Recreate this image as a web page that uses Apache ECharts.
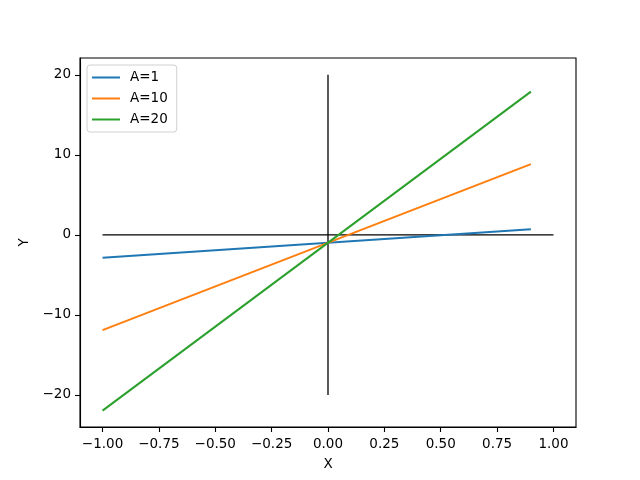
<!DOCTYPE html>
<html>
<head>
<meta charset="utf-8">
<script src="https://cdn.jsdelivr.net/npm/echarts@6/dist/echarts.min.js"></script>
<style>
html, body { margin: 0; padding: 0; background: #fff; }
#chart { width: 640px; height: 480px; }
</style>
</head>
<body>
<div id="chart"></div>
<script>
// 数据
var seriesNames = ['A=1', 'A=10', 'A=20'];
var xValues = [-1, 0.9];
var yA1 = [-2.85, 0.7];
var yA10 = [-11.9, 8.85];
var yA20 = [-21.95, 17.9];
var colors = ['#1f77b4', '#ff7f0e', '#2ca02c'];
var xTicks = [-1, -0.75, -0.5, -0.25, 0, 0.25, 0.5, 0.75, 1];
var yTicks = [-20, -10, 0, 10, 20];
// 十字线
var hLine = [[-1, 0], [1, 0]];
var vLine = [[0, -20], [0, 20]];

function pairs(xs, ys) {
    var out = [];
    for (var i = 0; i < xs.length; i++) {
        out.push([xs[i], ys[i]]);
    }
    return out;
}

function fmt(v, digits) {
    var s = Math.abs(v).toFixed(digits);
    return v < 0 ? '\u2212' + s : s;
}

var font = 'DejaVu Sans';
var fontSize = 13.5;
var myChart = echarts.init(document.getElementById('chart'));
var allY = [yA1, yA10, yA20];
var series = [];
for (var i = 0; i < seriesNames.length; i++) {
    series.push({
        name: seriesNames[i],
        type: 'line',
        symbol: 'none',
        data: pairs(xValues, allY[i]),
        lineStyle: { color: colors[i], width: 2 },
        itemStyle: { color: colors[i] },
        z: 3
    });
}
series.push({
    type: 'line', symbol: 'none', data: hLine, silent: true,
    lineStyle: { color: '#000', width: 1.3 }, z: 2
});
series.push({
    type: 'line', symbol: 'none', data: vLine, silent: true,
    lineStyle: { color: '#000', width: 1.3 }, z: 2
});

var option = {
    animation: false,
    backgroundColor: '#fff',
    grid: {
        left: 80, right: 64, top: 58, bottom: 53,
        show: true, borderColor: '#000', borderWidth: 1.1
    },
    legend: {
        data: seriesNames,
        orient: 'vertical',
        left: 87, top: 65,
        padding: [5, 9, 5, 5],
        icon: 'rect',
        itemWidth: 28, itemHeight: 2, itemGap: 6,
        backgroundColor: '#fff',
        borderColor: '#d0d0d0', borderWidth: 1, borderRadius: 3,
        textStyle: { fontFamily: font, fontSize: fontSize, color: '#000', padding: [0, 0, 0, 5], lineHeight: 15 }
    },
    xAxis: {
        type: 'value', min: -1.1, max: 1.1,
        name: 'X', nameLocation: 'middle', nameGap: 30,
        nameTextStyle: { fontFamily: font, fontSize: fontSize, color: '#000' },
        splitLine: { show: false },
        axisLine: { show: true, onZero: false, lineStyle: { color: '#000', width: 1.1 } },
        axisTick: { show: true, length: 5, customValues: xTicks, lineStyle: { color: '#000', width: 1.1 } },
        axisLabel: {
            customValues: xTicks, margin: 10,
            fontFamily: font, fontSize: fontSize, color: '#000',
            formatter: function (v) { return fmt(v, 2); }
        }
    },
    yAxis: {
        type: 'value', min: -24, max: 22.1,
        name: 'Y', nameLocation: 'middle', nameGap: 47,
        nameTextStyle: { fontFamily: font, fontSize: fontSize, color: '#000' },
        splitLine: { show: false },
        axisLine: { show: true, onZero: false, lineStyle: { color: '#000', width: 1.1 } },
        axisTick: { show: true, length: 5, customValues: yTicks, lineStyle: { color: '#000', width: 1.1 } },
        axisLabel: {
            customValues: yTicks, margin: 9,
            fontFamily: font, fontSize: fontSize, color: '#000',
            padding: [2, 0, 0, 0],
            formatter: function (v) { return fmt(v, 0); }
        }
    },
    series: series
};
myChart.setOption(option);
</script>
</body>
</html>
